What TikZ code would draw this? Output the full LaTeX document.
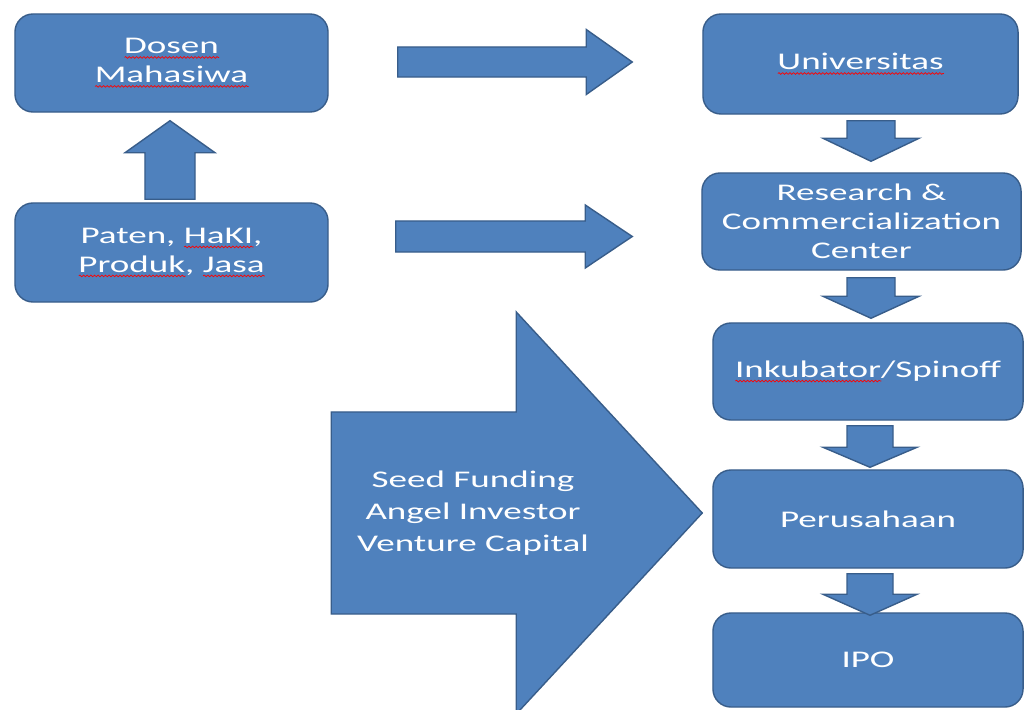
\documentclass[tikz,border=0pt]{standalone}
\usepackage{fontspec}
\setmainfont[FakeStretch=1.55]{Carlito}
\usetikzlibrary{calc, decorations.pathmorphing}

\definecolor{boxblue}{RGB}{79,129,189}
\definecolor{edgeblue}{RGB}{56,93,138}

% red wavy spell-check line under a word
\newsavebox{\spellbox}
\newcommand{\spell}[1]{%
  \sbox{\spellbox}{#1}%
  \rlap{\raisebox{-3.5pt}{\tikz[x=1pt, y=1pt, sharp corners]\draw[red, line width=0.5pt,
    decorate, decoration={snake, amplitude=0.6pt, segment length=2.6pt}]
    (0pt, 0pt) -- (\the\wd\spellbox, 0pt);}}%
  \usebox{\spellbox}}
% block arrow from #1 to #2: shaft half width, head half width, head length
\newcommand{\blockarrow}[5]{%
  \coordinate (h) at ($(#2)!#5!(#1)$);
  \draw[arrowbody] ($(#1)!#3!90:(#2)$) -- ($(h)!#3!90:(#2)$)
    -- ($(h)!#4!90:(#2)$) -- (#2) -- ($(h)!#4!-90:(#2)$)
    -- ($(h)!#3!-90:(#2)$) -- ($(#1)!#3!-90:(#2)$) -- cycle;}

\tikzset{
  stage/.style={draw=edgeblue, fill=boxblue, line width=1pt, rounded corners=0.45cm,
    text=white, align=center, inner sep=2pt,
    font=\fontsize{17}{20.6}\selectfont},
  arrowbody/.style={draw=edgeblue, fill=boxblue, line width=1pt, line join=miter},
}

\begin{document}
\begin{tikzpicture}[x=0.025cm, y=-0.025cm]
    \useasboundingbox (0, 0) rectangle (1026, 710);

    \node[stage, minimum width=7.825cm, minimum height=2.45cm] (dosen) at (171.5, 63)
      {\spell{Dosen}\\\spell{Mahasiwa}};
    \node[stage, minimum width=7.825cm, minimum height=2.475cm] (paten) at (171.5, 252.5)
      {Paten, \spell{HaKI},\\\spell{Produk}, \spell{Jasa}};
    \node[stage, minimum width=7.875cm, minimum height=2.5cm] (univ) at (860.5, 64)
      {\spell{Universitas}};
    \node[stage, minimum width=7.975cm, minimum height=2.425cm] (rcc) at (861.5, 221.5)
      {Research \&\\Commercialization\\Center};
    \node[stage, minimum width=7.75cm, minimum height=2.425cm] (inku) at (868, 371.5)
      {\spell{Inkubator}/Spinoff};
    \node[stage, minimum width=7.75cm, minimum height=2.45cm] (perus) at (868, 519)
      {Perusahaan};
    \node[stage, minimum width=7.75cm, minimum height=2.35cm] (ipo) at (868, 660)
      {IPO};

    \coordinate (up1) at ($(paten.north)+(-1.5, -3)$);
    \coordinate (up2) at ($(dosen.south)+(-1.5, 8)$);
    \coordinate (r1s) at ($(dosen.east)+(69, -1)$);
    \coordinate (r1e) at ($(univ.west)+(-70, -2)$);
    \coordinate (r2s) at ($(paten.east)+(67, -16)$);
    \coordinate (r2e) at ($(rcc.west)+(-69, 15)$);
    \coordinate (d1s) at ($(univ.south)+(10.5, 6)$);
    \coordinate (d1e) at ($(rcc.north)+(9.5, -11)$);
    \coordinate (d2s) at ($(rcc.south)+(9.5, 7)$);
    \coordinate (d2e) at ($(inku.north)+(3, -4)$);
    \coordinate (d3s) at ($(inku.south)+(2, 5)$);
    \coordinate (d3e) at ($(perus.north)+(2, -2)$);
    \coordinate (d4s) at ($(perus.south)+(2, 5)$);
    \coordinate (d4e) at ($(ipo.north)+(2, 3)$);
    \coordinate (fs) at ($(perus.west)+(-381, -6)$);
    \coordinate (fe) at ($(perus.west)+(-10, -6)$);

    \blockarrow{up1}{up2}{0.625cm}{1.125cm}{0.8cm}
    \blockarrow{r1s}{r1e}{0.375cm}{0.8125cm}{1.15cm}
    \blockarrow{r2s}{r2e}{0.3875cm}{0.7875cm}{1.175cm}
    \blockarrow{d1s}{d1e}{0.6cm}{1.2cm}{0.575cm}
    \blockarrow{d2s}{d2e}{0.6cm}{1.2cm}{0.55cm}
    \blockarrow{d3s}{d3e}{0.575cm}{1.175cm}{0.5cm}
    \blockarrow{d4s}{d4e}{0.575cm}{1.175cm}{0.525cm}
    \blockarrow{fs}{fe}{2.525cm}{5.025cm}{4.65cm}

    \node[text=white, align=center, font=\fontsize{17}{22.5}\selectfont] (fund)
      at (473, 513) {Seed Funding\\Angel Investor\\Venture Capital};
  \end{tikzpicture}
\end{document}
